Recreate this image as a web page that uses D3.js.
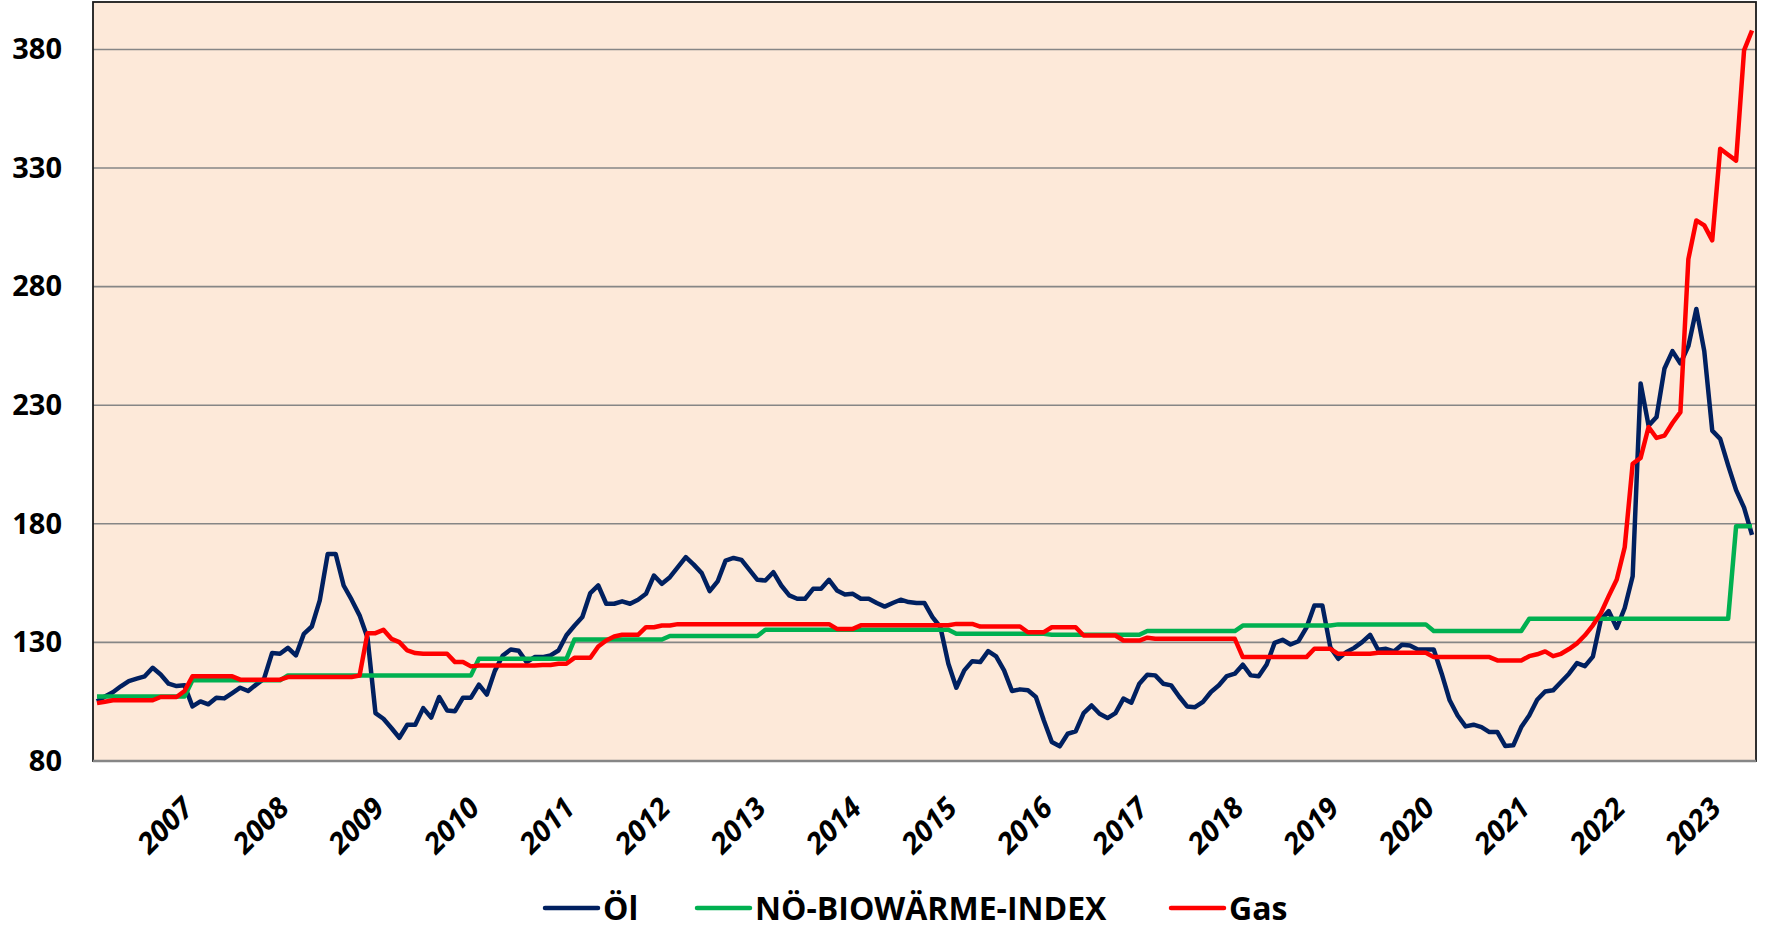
<!DOCTYPE html>
<html>
<head>
<meta charset="utf-8">
<script src="https://cdn.jsdelivr.net/npm/d3@7"></script>
<style>
html, body { margin: 0; padding: 0; background: #fff; }
svg { display: block; }
</style>
</head>
<body>
<div id="chart"></div>
<script>
// monthly values, Jan 2006 .. May 2023
var oil = [
	105.1, 107.2, 109, 111.5, 113.7, 114.7, 115.7, 119.3, 116.5, 112.6, 111.6, 111.9,
	103, 105.1, 103.9, 106.7, 106.4, 108.6, 110.9, 109.5, 112.2, 114.7, 125.5, 125.2,
	127.7, 124.5, 133.6, 136.7, 147.7, 167.3, 167.3, 154, 148, 141.4, 132, 100.2,
	97.8, 93.9, 89.8, 95.3, 95.3, 102.3, 98.3, 107, 101.3, 101, 106.7, 106.7,
	112.2, 108, 118, 124.5, 127, 126.5, 121.7, 123.8, 123.8, 124.5, 126.6, 133,
	137, 140.7, 150.8, 154, 146.3, 146.3, 147.3, 146.3, 148, 150.5, 158.2, 154.7,
	157.5, 161.7, 166, 162.8, 159.2, 151.6, 155.7, 164.5, 165.6, 164.8, 160.6, 156.4,
	156.1, 159.6, 154, 149.8, 148.4, 148.4, 152.6, 152.6, 156.4, 151.9, 150.2, 150.5,
	148.4, 148.4, 146.6, 145.1, 146.6, 148, 147, 146.6, 146.6, 140.7, 136.4, 121,
	110.9, 118.2, 122.1, 121.7, 126.3, 124.1, 118.2, 109.5, 110.2, 109.8, 107, 97.1,
	88, 86.2, 91.5, 92.5, 100.2, 103.4, 99.9, 98.1, 100.2, 106.3, 104.6, 112.6,
	116.4, 116.1, 112.6, 111.9, 107.2, 103, 102.7, 104.9, 109.1, 111.9, 115.8, 116.8,
	120.6, 116.1, 115.7, 120.7, 129.8, 131.1, 129.1, 130.5, 136.2, 145.6, 145.6, 128,
	123.1, 125.9, 127.7, 130.1, 133.2, 126.9, 127.3, 126.2, 129, 128.7, 127, 127,
	127, 116.8, 105.6, 99.2, 94.6, 95.3, 94.3, 92.2, 92.2, 86.3, 86.6, 94.3,
	99.2, 105.8, 109.3, 109.8, 113.3, 116.8, 121.3, 120, 124, 139.5, 143.2, 136.1,
	144.5, 157.9, 239.2, 221.4, 225, 245.5, 252.8, 247.6, 254.9, 270.6, 252.8, 219.3,
	215.8, 204.6, 194.2, 186.8, 175.3
];
var bio = [
	107.2, 107.2, 107.2, 107.2, 107.2, 107.2, 107.2, 107.2, 107.2, 107.2, 107.2, 107.2,
	114, 114, 114, 114, 114, 114, 114, 114, 114, 114, 114, 114,
	116.1, 116.1, 116.1, 116.1, 116.1, 116.1, 116.1, 116.1, 116.1, 116.1, 116.1, 116.1,
	116.1, 116.1, 116.1, 116.1, 116.1, 116.1, 116.1, 116.1, 116.1, 116.1, 116.1, 116.1,
	123.1, 123.1, 123.1, 123.1, 123.1, 123.1, 123.1, 123.1, 123.1, 123.1, 123.1, 123.1,
	131.2, 131.2, 131.2, 131.2, 131.2, 131.2, 131.2, 131.2, 131.2, 131.2, 131.2, 131.2,
	132.7, 132.7, 132.7, 132.7, 132.7, 132.7, 132.7, 132.7, 132.7, 132.7, 132.7, 132.7,
	135.3, 135.3, 135.3, 135.3, 135.3, 135.3, 135.3, 135.3, 135.3, 135.3, 135.3, 135.3,
	135.3, 135.3, 135.3, 135.3, 135.3, 135.3, 135.3, 135.3, 135.3, 135.3, 135.3, 135.3,
	133.6, 133.6, 133.6, 133.6, 133.6, 133.6, 133.6, 133.6, 133.6, 133.6, 133.6, 133.6,
	133.2, 133.2, 133.2, 133.2, 133.2, 133.2, 133.2, 133.2, 133.2, 133.2, 133.2, 133.2,
	134.8, 134.8, 134.8, 134.8, 134.8, 134.8, 134.8, 134.8, 134.8, 134.8, 134.8, 134.8,
	137.1, 137.1, 137.1, 137.1, 137.1, 137.1, 137.1, 137.1, 137.1, 137.1, 137.1, 137.1,
	137.6, 137.6, 137.6, 137.6, 137.6, 137.6, 137.6, 137.6, 137.6, 137.6, 137.6, 137.6,
	134.8, 134.8, 134.8, 134.8, 134.8, 134.8, 134.8, 134.8, 134.8, 134.8, 134.8, 134.8,
	140, 140, 140, 140, 140, 140, 140, 140, 140, 140, 140, 140,
	140, 140, 140, 140, 140, 140, 140, 140, 140, 140, 140, 140,
	140, 140, 179, 179, 179
];
var gas = [
	104.4, 105, 105.6, 105.6, 105.6, 105.6, 105.6, 105.6, 107, 107, 107, 109.5,
	115.7, 115.7, 115.7, 115.7, 115.7, 115.7, 114.3, 114.3, 114.3, 114.3, 114.3, 114.3,
	115.4, 115.4, 115.4, 115.4, 115.4, 115.4, 115.4, 115.4, 115.4, 116, 133.9, 133.9,
	135.3, 131.5, 130.1, 126.6, 125.5, 125.2, 125.2, 125.2, 125.2, 121.7, 121.7, 119.9,
	120.3, 120.3, 120.3, 120.3, 120.3, 120.3, 120.3, 120.3, 120.5, 120.5, 121, 121,
	123.5, 123.5, 123.5, 128.3, 130.8, 132.5, 133.2, 133.2, 133.2, 136.4, 136.4, 137.1,
	137.1, 137.7, 137.7, 137.7, 137.7, 137.7, 137.7, 137.7, 137.7, 137.7, 137.7, 137.7,
	137.7, 137.7, 137.7, 137.7, 137.7, 137.7, 137.7, 137.7, 137.7, 135.7, 135.7, 135.7,
	137.2, 137.2, 137.2, 137.2, 137.2, 137.2, 137.2, 137.2, 137.2, 137.2, 137.2, 137.2,
	137.8, 137.8, 137.8, 136.7, 136.7, 136.7, 136.7, 136.7, 136.7, 134.3, 134.3, 134.3,
	136.4, 136.4, 136.4, 136.4, 132.9, 132.9, 132.9, 132.9, 132.9, 130.8, 130.8, 130.8,
	132, 131.5, 131.5, 131.5, 131.5, 131.5, 131.5, 131.5, 131.5, 131.5, 131.5, 131.5,
	123.8, 123.8, 123.8, 123.8, 123.8, 123.8, 123.8, 123.8, 123.8, 127.3, 127.3, 127.3,
	125.2, 125.2, 125.2, 125.2, 125.2, 125.6, 125.6, 125.6, 125.6, 125.6, 125.6, 125.6,
	123.8, 123.8, 123.8, 123.8, 123.8, 123.8, 123.8, 123.8, 122.4, 122.4, 122.4, 122.4,
	124.2, 125, 126.2, 124.2, 125.2, 127.2, 129.6, 133, 137.2, 142.3, 149.6, 156.5,
	170.1, 205.3, 207.8, 220.8, 216.2, 217.2, 222.5, 227.1, 291.6, 307.9, 305.8, 299.5,
	338.1, 335.6, 333.1, 379.6, 388
];
var year_labels = ['2007', '2008', '2009', '2010', '2011', '2012', '2013', '2014', '2015',
	'2016', '2017', '2018', '2019', '2020', '2021', '2022', '2023'];
var y_ticks = [80, 130, 180, 230, 280, 330, 380];
var series_names = ['Öl', 'NÖ-BIOWÄRME-INDEX', 'Gas'];

var chart_width = 1767;
var chart_height = 936;
var plot_left = 93, plot_right = 1756, plot_top = 2, plot_bottom = 761;
var font = '"Open Sans", "Noto Sans", sans-serif';

var svg = d3.select('#chart')
	.append('svg')
	.attr('width', chart_width)
	.attr('height', chart_height)
	.style('font-family', font);

// scales: one category slot per month
var x_scale = d3.scaleLinear()
	.domain([-0.5, oil.length - 0.5])
	.range([plot_left, plot_right]);
var y_scale = d3.scaleLinear()
	.domain([80, 400])
	.range([plot_bottom, plot_top]);

// plot background
svg.append('rect')
	.attr('x', plot_left)
	.attr('y', plot_top)
	.attr('width', plot_right - plot_left)
	.attr('height', plot_bottom - plot_top)
	.attr('fill', '#fde9d9');

// gridlines
svg.selectAll('line.grid')
	.data(y_ticks.slice(1))
	.enter()
	.append('line')
	.attr('class', 'grid')
	.attr('x1', plot_left)
	.attr('x2', plot_right)
	.attr('y1', function (d) { return y_scale(d); })
	.attr('y2', function (d) { return y_scale(d); })
	.attr('stroke', '#868686')
	.attr('stroke-width', 1.6);

// border
svg.append('rect')
	.attr('x', plot_left)
	.attr('y', plot_top)
	.attr('width', plot_right - plot_left)
	.attr('height', plot_bottom - plot_top)
	.attr('fill', 'none')
	.attr('stroke', '#1a1a1a')
	.attr('stroke-width', 1.8);

// lines
var line = d3.line()
	.x(function (d, i) { return x_scale(i); })
	.y(function (d) { return y_scale(d); });

var colors = ['#002060', '#00b050', '#ff0000'];
var all_series = [oil, bio, gas];

svg.selectAll('path.series')
	.data(all_series)
	.enter()
	.append('path')
	.attr('class', 'series')
	.attr('d', line)
	.attr('fill', 'none')
	.attr('stroke', function (d, i) { return colors[i]; })
	.attr('stroke-width', 4.5)
	.attr('stroke-linejoin', 'round');

// bottom axis line
svg.append('line')
	.attr('x1', plot_left)
	.attr('x2', plot_right)
	.attr('y1', plot_bottom)
	.attr('y2', plot_bottom)
	.attr('stroke', '#868686')
	.attr('stroke-width', 2.5);

// y axis
var y_axis = d3.axisLeft(y_scale)
	.tickValues(y_ticks)
	.tickSize(0)
	.tickPadding(31);
var y_g = svg.append('g')
	.attr('transform', 'translate(' + plot_left + ',0)')
	.call(y_axis)
	.attr('font-family', null)
	.attr('font-size', null);
y_g.select('.domain').remove();
y_g.selectAll('text')
	.style('font-family', font)
	.style('font-weight', '700')
	.style('font-size', '29px')
	.attr('fill', '#000');

// x axis, a label every January
var x_axis = d3.axisBottom(x_scale)
	.tickValues(year_labels.map(function (d, i) { return 12 + i * 12; }))
	.tickFormat(function (d, i) { return year_labels[i]; })
	.tickSize(0);
var x_g = svg.append('g')
	.attr('transform', 'translate(0,' + plot_bottom + ')')
	.call(x_axis)
	.attr('font-family', null)
	.attr('font-size', null);
x_g.select('.domain').remove();
x_g.selectAll('text')
	.attr('x', 0)
	.attr('y', 0)
	.attr('dy', 0)
	.attr('text-anchor', 'end')
	.attr('transform', 'translate(2,49) rotate(-45)')
	.style('font-family', font)
	.style('font-weight', '700')
	.style('font-style', 'italic')
	.style('font-size', '29px')
	.attr('fill', '#000');

// legend
var legend_x = [545, 697, 1171];
var legend = svg.selectAll('g.legend')
	.data(series_names)
	.enter()
	.append('g')
	.attr('class', 'legend')
	.attr('transform', function (d, i) { return 'translate(' + legend_x[i] + ',908)'; });
legend.append('line')
	.attr('x1', 0)
	.attr('x2', 53)
	.attr('stroke', function (d, i) { return colors[i]; })
	.attr('stroke-width', 4.5)
	.attr('stroke-linecap', 'round');
legend.append('text')
	.attr('x', 58)
	.attr('y', 12)
	.style('font-family', font)
	.style('font-weight', '700')
	.style('font-size', '32px')
	.attr('fill', '#000')
	.text(function (d) { return d; });
</script>
</body>
</html>
